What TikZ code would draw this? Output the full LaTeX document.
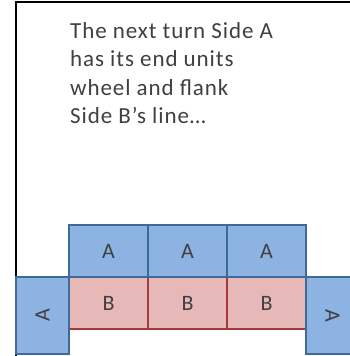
\documentclass[tikz,border=0pt]{standalone}
\usepackage{fontspec}
\setmainfont{Carlito}
\newfontfamily\notefont[LetterSpace=4]{Carlito}
\usetikzlibrary{positioning}

\definecolor{bluefill}{HTML}{8DB3E2}
\definecolor{blueedge}{HTML}{3E6A99}
\definecolor{pinkfill}{HTML}{E6B9B8}
\definecolor{rededge}{HTML}{A33B38}
\definecolor{inkgray}{HTML}{404040}

\tikzset{
    unitA/.style={draw=blueedge, fill=bluefill, line width=1.4pt,
        minimum width=79pt, minimum height=52pt, inner sep=0pt, outer sep=0pt,
        text=inkgray, font=\fontsize{22}{22}\selectfont},
    unitB/.style={unitA, draw=rededge, fill=pinkfill},
    flank/.style={unitA, minimum width=53pt, minimum height=77pt}
}

\begin{document}
\begin{tikzpicture}[x=1pt, y=-1pt]
    \useasboundingbox (0,0) rectangle (350,356);
    \draw[line width=2.5pt] (16,356) -- (16,2) -- (350,2);

    \node[anchor=north west, align=left, text=inkgray, inner sep=0pt,
          font=\notefont\fontsize{23}{28.5}\selectfont] (note) at (70,22)
        {The next turn Side A\\has its end units\\wheel and flank\\Side B’s line\dots};

    % Side B's line
    \node[unitB, anchor=north west] (b1) at (69,277) {B};
    \node[unitB, right=0pt of b1] (b2) {B};
    \node[unitB, right=0pt of b2] (b3) {B};

    % Side A
    \node[unitA, above=0pt of b1] (a1) {A};
    \node[unitA, above=0pt of b2] (a2) {A};
    \node[unitA, above=0pt of b3] (a3) {A};

    % wheeled end units
    \node[flank, anchor=north east] (aleft) at (b1.north west) {\rotatebox{90}{A}};
    \node[flank, anchor=north west] (aright) at (b3.north east) {\rotatebox{-90}{A}};
\end{tikzpicture}
\end{document}
